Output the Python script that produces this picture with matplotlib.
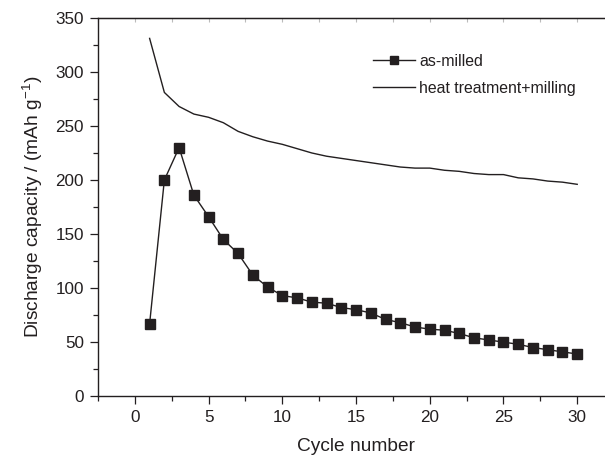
import matplotlib
matplotlib.use('Agg')
import matplotlib.pyplot as plt
from matplotlib.ticker import MultipleLocator, NullFormatter

plt.rcParams['font.family'] = ['Liberation Sans', 'DejaVu Sans']

# cycle numbers and discharge capacities (mAh/g)
cycles = list(range(1, 31))
as_milled = [67, 200, 230, 186, 166, 145, 132, 112, 101, 93,
             91, 87, 86, 82, 80, 77, 71, 68, 64, 62,
             61, 58, 54, 52, 50, 48, 45, 43, 41, 39]
heat_milled = [331, 281, 268, 261, 258, 253, 245, 240, 236, 233,
               229, 225, 222, 220, 218, 216, 214, 212, 211, 211,
               209, 208, 206, 205, 205, 202, 201, 199, 198, 196]

ink = '#231f20'

fig = plt.figure(figsize=(6.05, 4.58), dpi=100)
ax = fig.add_axes([0.162, 0.135, 0.853, 0.826])   # right edge runs off the figure like the original

ax.plot(cycles, as_milled, color=ink, lw=1.0, marker='s', ms=7.8,
        mfc=ink, mec=ink, label='as-milled')
ax.plot(cycles, heat_milled, color=ink, lw=1.0, label='heat treatment+milling')

ax.set_xlim(-2.5, 32.5)
ax.set_ylim(0, 350)
ax.xaxis.set_major_locator(MultipleLocator(5))
ax.xaxis.set_minor_locator(MultipleLocator(2.5))
ax.yaxis.set_major_locator(MultipleLocator(50))
ax.yaxis.set_minor_locator(MultipleLocator(25))

ax.tick_params(which='both', direction='out', colors=ink, labelsize=12.3, width=0.9)
ax.tick_params(which='major', length=6, pad=4)
ax.tick_params(which='minor', length=3.5)

# faint inward ticks on the top spine
top = ax.secondary_xaxis('top')
top.xaxis.set_major_locator(MultipleLocator(2.5))
top.xaxis.set_major_formatter(NullFormatter())
top.tick_params(direction='in', length=3, width=0.8, colors='#bbbbbb')
top.spines['top'].set_color(ink)

for s in ax.spines.values():
    s.set_color(ink)
    s.set_linewidth(1.0)
ax.spines['right'].set_visible(False)

ax.set_xlabel('Cycle number', fontsize=13.8, color=ink, labelpad=9)
ax.set_ylabel('Discharge capacity / (mAh g$^{\\mathregular{-1}}$)', fontsize=13.8, color=ink, labelpad=8)

ax.legend(loc='upper left', bbox_to_anchor=(0.506, 0.943), frameon=False, fontsize=11.4,
          handlelength=2.65, handletextpad=0.25, labelspacing=0.75, labelcolor=ink,
          markerscale=0.8)

fig.savefig('out.png', dpi=100)
